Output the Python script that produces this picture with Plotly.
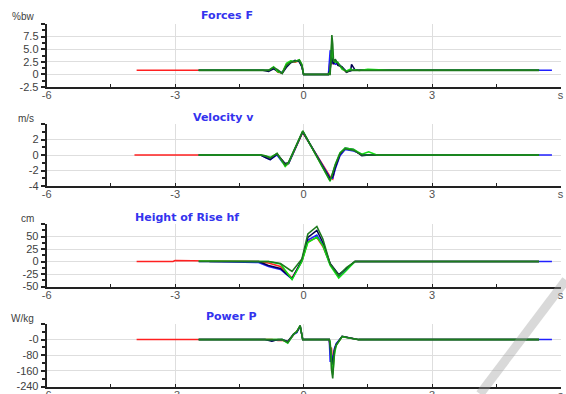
import plotly.graph_objects as go

# ---------------- data ----------------
series_names = ["Trial 1", "Trial 2", "Trial 3", "Trial 4", "Trial 5"]
series_colors = ["#ff2020", "#2020ff", "#000050", "#10e010", "#1e7a1e"]

# Forces F (%bw)
t_F = [-3.9, -2.45, -0.95, -0.82, -0.7, -0.6, -0.5, -0.4, -0.3, -0.2, -0.1, -0.04, 0.0, 0.58,
       0.62, 0.66, 0.68, 0.70, 0.74, 0.8, 0.9, 1.0, 1.1, 1.12, 1.2, 1.3, 1.5, 2.0, 3.0, 4.0, 5.0, 5.5, 5.8]
F_red = [0.8, 0.8, 0.8, 0.8, 1.3, 0.4, 0.3, 2.0, 2.6, 2.4, 2.7, 1.7, 0.0, 0.0,
         3.0, 2.0, 2.5, 2.2, 2.6, 2.0, 1.2, 0.5, 0.8, 0.8, 0.9, 0.8, 0.9, 0.8, 0.8, 0.8, 0.8, 0.8, None]
F_blue = [None, 0.8, 0.8, 0.8, 1.2, 0.7, 0.4, 1.6, 2.5, 2.6, 2.7, 1.6, 0.0, 0.0,
          4.8, 3.0, 2.2, 2.5, 2.0, 2.2, 1.4, 0.6, 0.7, 0.8, 0.9, 0.8, 0.8, 0.8, 0.8, 0.8, 0.8, 0.8, 0.8]
F_navy = [None, 0.8, 0.8, 0.6, 1.1, 0.6, 0.2, 1.4, 2.3, 2.8, 2.5, 1.5, 0.0, 0.0,
          1.0, 3.5, 2.8, 2.0, 3.0, 1.8, 1.5, 0.4, 0.8, 2.0, 0.9, 0.8, 0.8, 0.8, 0.8, 0.8, 0.8, 0.8, None]
F_lime = [None, 0.8, 0.8, 0.8, 1.5, 0.5, 0.3, 2.2, 2.7, 2.5, 2.9, 2.0, 0.0, 0.0,
          0.5, 6.5, 3.5, 2.8, 2.4, 2.4, 1.0, 0.7, 1.1, 0.8, 0.9, 0.8, 1.0, 0.8, 0.8, 0.8, 0.8, 0.8, None]
F_dg = [None, 0.8, 0.8, 0.8, 1.4, 0.9, 0.2, 1.8, 2.4, 2.6, 2.8, 1.8, 0.0, 0.0,
        0.0, 7.8, 6.0, 2.5, 2.9, 2.2, 1.3, 0.5, 0.8, 0.8, 0.9, 0.8, 0.8, 0.8, 0.8, 0.8, 0.8, 0.8, None]

# Velocity v (m/s)
t_V = [-3.95, -2.45, -1.0, -0.9, -0.78, -0.62, -0.5, -0.43, -0.35, -0.02, 0.62, 0.68, 0.74,
       0.85, 0.97, 1.17, 1.36, 1.52, 1.71, 3.0, 5.5, 5.8]
V_red = [0, 0, 0, -0.2, -0.5, 0.1, -0.7, -1.4, -1.1, 2.9, -2.8, -3.1, -1.6, 0.0, 0.8, 0.6, 0.0, 0.0, 0, 0, 0, None]
V_blue = [None, 0, 0, -0.3, -0.6, 0.0, -0.9, -1.2, -1.1, 3.0, -3.0, -3.0, -1.8, -0.1, 0.7, 0.5, 0.1, 0.0, 0, 0, 0, 0]
V_navy = [None, 0, 0, -0.3, -0.6, 0.1, -0.6, -1.1, -1.0, 3.0, -3.1, -2.8, -1.6, 0.1, 0.9, 0.7, -0.1, 0.0, 0, 0, 0, None]
V_lime = [None, 0, 0, -0.1, -0.3, 0.2, -0.8, -1.5, -1.0, 3.1, -3.4, -2.3, -1.2, 0.3, 0.9, 0.7, 0.1, 0.4, 0, 0, 0, None]
V_dg = [None, 0, 0, -0.1, -0.4, 0.2, -0.7, -1.3, -0.9, 3.1, -3.3, -2.2, -1.3, 0.2, 0.8, 0.6, 0.0, 0.0, 0, 0, 0, None]

# Height of Rise hf (cm)
t_H = [-3.9, -3.05, -3.0, -2.45, -2.2, -1.05, -0.82, -0.54, -0.4, -0.27, -0.04, 0.1, 0.31, 0.45,
       0.62, 0.82, 1.0, 1.2, 3.0, 5.5, 5.8]
H_red = [0, 0, 2, 2, 1, 0, -3, -10, -22, -33, 0, 40, 48, 30, -5, -30, -15, 0, 0, 0, None]
H_blue = [None, None, None, 0, 0, -2, -10, -16, -26, -35, 1, 43, 53, 33, -6, -30, -16, 0, 0, 0, 0]
H_navy = [None, None, None, None, 0, 0, -8, -14, -25, -34, 3, 48, 62, 38, -4, -26, -14, 0, 0, 0, None]
H_lime = [None, None, None, 1, 1, 0, 0, -5, -20, -36, 0, 38, 49, 32, -8, -33, -18, 0, 0, 0, None]
H_dg = [None, None, None, 0, 0, 0, 0, -4, -12, -20, 5, 55, 70, 45, -5, -28, -12, 0, 0, 0, None]

# Power P (W/kg)
t_P = [-3.9, -2.45, -0.9, -0.74, -0.6, -0.5, -0.37, -0.23, -0.16, -0.08, -0.02, 0.6, 0.62, 0.65,
       0.68, 0.72, 0.76, 0.9, 1.05, 1.28, 5.5, 5.8]
P_red = [0, 0, 0, 0, -5, -3, -12, 25, 38, 65, 0, 0, -55, -40, -120, -50, -25, 15, 10, 0, 0, None]
P_blue = [None, 0, 0, -4, 0, 0, -14, 27, 36, 68, 0, 0, -114, -80, -100, -45, -20, 16, 10, 0, 0, 0]
P_navy = [None, 0, 0, -8, 0, 0, -10, 30, 38, 70, 0, 0, -30, -90, -130, -55, -25, 17, 10, 0, 0, None]
P_lime = [None, 0, 0, 0, -2, 0, -18, 28, 42, 70, 0, 0, -10, -100, -180, -80, -30, 15, 8, 0, 0, None]
P_dg = [None, 0, 0, 0, 0, 0, -15, 30, 40, 73, 0, 0, -20, -150, -199, -60, -29, 17, 10, 0, 0, None]

# axes / labels
x_tickvals = [-6, -3, 0, 3, 6]
x_ticktext = ["-6", "-3", "0", "3", "s"]
x_minor = [-4.5, -1.5, 1.5, 4.5]

panel_titles = ["Forces F", "Velocity v", "Height of Rise hf", "Power P"]
panel_units = ["%bw", "m/s", "cm", "W/kg"]
y_tickvals = [[-2.5, 0, 2.5, 5, 7.5, 10], [-4, -2, 0, 2, 4], [-50, -25, 0, 25, 50, 75], [-240, -160, -80, 0, 80]]
y_ticktext = [["-2.5", "0", "2.5", "5.0", "7.5", ""], ["-4", "-2", "0", "2", ""],
              ["-50", "-25", "0", "25", "50", ""], ["-240", "-160", "-80", "-0", ""]]
y_minor = [[-1.25, 1.25, 3.75, 6.25, 8.75], [-3, -1, 1, 3], [-37.5, -12.5, 12.5, 37.5, 62.5], [-200, -120, -40, 40]]
y_ranges = [[-2.5, 10], [-4, 4], [-50, 75], [-240, 80]]

panels = [
    (t_F, [F_red, F_blue, F_navy, F_lime, F_dg]),
    (t_V, [V_red, V_blue, V_navy, V_lime, V_dg]),
    (t_H, [H_red, H_blue, H_navy, H_lime, H_dg]),
    (t_P, [P_red, P_blue, P_navy, P_lime, P_dg]),
]

# ---------------- layout geometry (pixels) ----------------
W, H = 566, 394
x_left_px, x_right_px = 46.7, 560.5
panel_px = [(24, 87), (124, 186), (224, 286.5), (324, 386.5)]
title_px = [(227, 15), (223, 117), (187, 217), (231, 316)]
unit_px = [17, 119, 219, 318]

fig = go.Figure()
layout = dict(
    width=W, height=H, margin=dict(l=0, r=0, t=0, b=0, autoexpand=False),
    paper_bgcolor="white", plot_bgcolor="white", showlegend=False,
    font=dict(family="Liberation Sans, Arial, sans-serif", size=10, color="#404040"),
)
annotations = []
for i, (t, vals) in enumerate(panels):
    n = i + 1
    xa = "x" if n == 1 else f"x{n}"
    ya = "y" if n == 1 else f"y{n}"
    for name, color, v in zip(series_names, series_colors, vals):
        fig.add_trace(go.Scatter(x=t, y=v, mode="lines", name=name, xaxis=xa, yaxis=ya,
                                 line=dict(color=color, width=1.5 if color != "#1e7a1e" else 1.6),
                                 connectgaps=False, hoverinfo="skip"))
    top, bot = panel_px[i]
    layout["xaxis" if n == 1 else f"xaxis{n}"] = dict(
        domain=[x_left_px / W, x_right_px / W], anchor=ya, range=[-6, 6], automargin=False,
        tickvals=x_tickvals, ticktext=x_ticktext, ticks="inside", ticklen=3,
        tickcolor="#222", showline=True, linecolor="#222", linewidth=2,
        showgrid=True, gridcolor="#dedede", gridwidth=1, zeroline=False,
        minor=dict(tickvals=x_minor, ticks="inside", ticklen=3, tickcolor="#222", showgrid=False),
        tickfont=dict(size=11, color="#505050"), ticklabelstandoff=-3, fixedrange=True,
    )
    layout["yaxis" if n == 1 else f"yaxis{n}"] = dict(
        domain=[1 - bot / H, 1 - top / H], anchor=xa, range=y_ranges[i], automargin=False,
        tickvals=y_tickvals[i], ticktext=y_ticktext[i], ticks="outside", ticklen=4,
        tickcolor="#222", tickwidth=1.5, showline=True, linecolor="#222", linewidth=2,
        showgrid=True, gridcolor="#dedede", gridwidth=1, zeroline=False,
        minor=dict(tickvals=y_minor[i], ticks="outside", ticklen=3, tickcolor="#222", showgrid=False),
        tickfont=dict(size=11, color="#404040"), fixedrange=True,
    )
    tx, ty = title_px[i]
    annotations.append(dict(text="<b>" + panel_titles[i] + "</b>", x=tx / W, y=1 - ty / H,
                            xref="paper", yref="paper", xanchor="center", yanchor="middle", showarrow=False,
                            font=dict(family="DejaVu Sans, Verdana, sans-serif", size=11, color="#3333ee")))
    annotations.append(dict(text=panel_units[i], x=36 / W, y=1 - unit_px[i] / H, xref="paper", yref="paper",
                            xanchor="right", yanchor="middle", showarrow=False,
                            font=dict(size=10, color="#404040")))

layout["annotations"] = annotations
layout["shapes"] = [dict(type="line", xref="paper", yref="paper", x0=480 / W, y0=0, x1=1.0, y1=1 - 280 / H,
                         line=dict(color="rgba(160,160,160,0.4)", width=9), layer="above")]
fig.update_layout(**layout)
fig.write_html("out.html", config={"displayModeBar": False},
               post_script="document.body.style.margin='0px';document.body.style.overflow='hidden';")
